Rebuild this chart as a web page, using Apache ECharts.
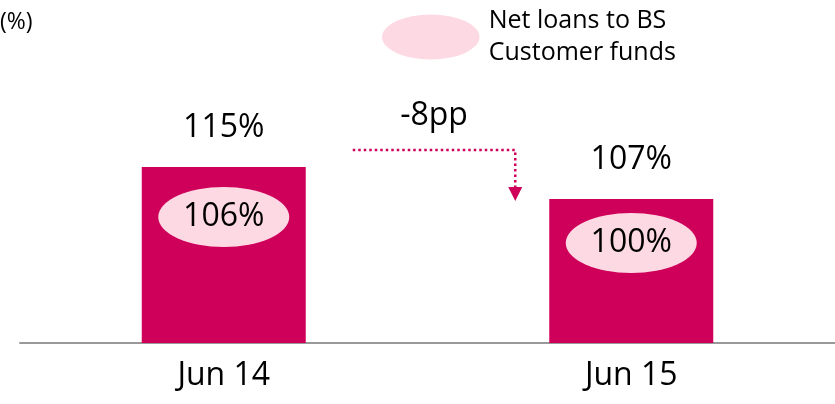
<!DOCTYPE html>
<html>
<head>
<meta charset="utf-8">
<script src="https://cdn.jsdelivr.net/npm/echarts@6/dist/echarts.min.js"></script>
<style>
  html, body { margin: 0; padding: 0; background: #fff; }
  #chart { width: 835px; height: 404px; }
</style>
</head>
<body>
<div id="chart"></div>
<script>
// data
const categories = ['Jun 14', 'Jun 15']
const customerFunds = [115, 107]     // bars
const bsCustomerFunds = [106, 100]   // inner ellipses
const legendName = 'Net loans to BS\nCustomer funds'

const FONT = 'Open Sans'
const BAR = '#cf005a'
const PINK = '#fdd9e3'
const ELLIPSE = 'path://M0,30A65,30,0,1,1,130,30A65,30,0,1,1,0,30Z'

const chart = echarts.init(document.getElementById('chart'))

const pctTitle = { type: 'text', left: 0, top: 11, style: { text: '(%)', font: '23px "' + FONT + '"', fill: '#000' } }

const option = {
  animation: false,
  textStyle: { fontFamily: FONT, color: '#000' },
  grid: { left: 20, width: 818, top: 23, bottom: 61 },
  legend: {
    left: 377,
    top: 0,
    icon: ELLIPSE,
    itemWidth: 98,
    itemHeight: 45,
    selectedMode: false,
    data: [legendName],
    textStyle: { fontFamily: FONT, fontSize: 25, lineHeight: 32, color: '#000', padding: [0, 0, 0, 4] }
  },
  xAxis: {
    type: 'category',
    data: categories,
    axisLine: { lineStyle: { color: '#999', width: 2 } },
    axisTick: { show: false },
    axisLabel: { fontFamily: FONT, fontSize: 32, lineHeight: 34, color: '#000', margin: 16 }
  },
  yAxis: { type: 'value', min: 71, max: 151, show: false },
  series: [
    {
      type: 'bar',
      data: customerFunds,
      barWidth: 164,
      itemStyle: { color: BAR },
      label: {
        show: true,
        position: 'top',
        distance: 22,
        fontFamily: FONT,
        fontSize: 32,
        lineHeight: 34,
        color: '#000',
        formatter: p => p.value + '%'
      }
    },
    {
      name: legendName,
      type: 'scatter',
      symbol: ELLIPSE,
      symbolSize: [131, 60],
      itemStyle: { color: PINK, opacity: 1 },
      data: customerFunds.map((v, i) => ({ value: [i, v], symbolOffset: [0, i === 0 ? 50 : 44] })),
      label: {
        show: true,
        position: 'inside',
        fontFamily: FONT,
        fontSize: 32,
        color: '#000',
        formatter: p => bsCustomerFunds[p.dataIndex] + '%'
      }
    }
  ],
  graphic: [pctTitle]
}

chart.setOption(option)

// arrow between the two bar tops
const p1 = chart.convertToPixel({ seriesIndex: 0 }, [0, customerFunds[0]])
const p2 = chart.convertToPixel({ seriesIndex: 0 }, [1, customerFunds[1]])
const half = 82
const yLine = p1[1] - 17
const xStart = p1[0] + half + 47
const xEnd = p2[0] - half - 34
const tipY = p2[1] + 2
const diff = customerFunds[1] - customerFunds[0]

chart.setOption({
  graphic: [
    pctTitle,
    {
      type: 'polyline',
      shape: { points: [[xStart, yLine], [xEnd, yLine], [xEnd, tipY - 14]] },
      style: { stroke: BAR, lineWidth: 2.5, lineDash: [2.5, 3], fill: null }
    },
    {
      type: 'polygon',
      shape: { points: [[xEnd - 7, tipY - 14], [xEnd + 7, tipY - 14], [xEnd, tipY]] },
      style: { fill: BAR }
    },
    {
      type: 'text',
      x: (xStart + xEnd) / 2,
      y: yLine - 18,
      style: {
        text: (diff > 0 ? '+' : '') + diff + 'pp',
        font: '32px "' + FONT + '"',
        fill: '#000',
        align: 'center',
        verticalAlign: 'bottom'
      }
    }
  ]
})
</script>
</body>
</html>
